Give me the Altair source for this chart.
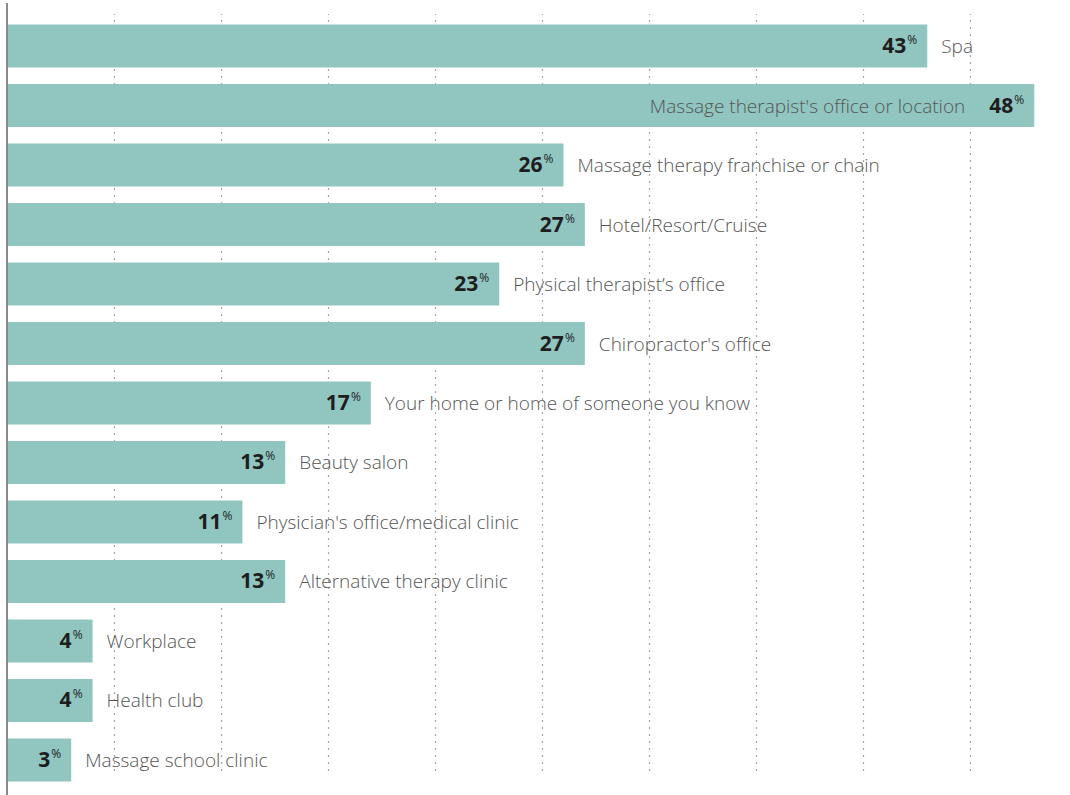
import altair as alt
import pandas as pd

categories = [
    "Spa",
    "Massage therapist's office or location",
    "Massage therapy franchise or chain",
    "Hotel/Resort/Cruise",
    "Physical therapist’s office",
    "Chiropractor's office",
    "Your home or home of someone you know",
    "Beauty salon",
    "Physician's office/medical clinic",
    "Alternative therapy clinic",
    "Workplace",
    "Health club",
    "Massage school clinic",
]
values = [43, 48, 26, 27, 23, 27, 17, 13, 11, 13, 4, 4, 3]
grid_values = [5, 10, 15, 20, 25, 30, 35, 40, 45]

df = pd.DataFrame({"category": categories, "value": values})
df["num"] = df["value"].astype(str)
df["pct"] = "%"
df["inside"] = df["value"] == df["value"].max()

BAR = "#90c5c0"
FONT = "Open Sans"

x_scale = alt.Scale(domain=[0, 49.67], nice=False, zero=True)
y_scale = alt.Scale(range=[24.5, 781.5], paddingInner=0.277, paddingOuter=0)

x_enc = alt.X(
    "value:Q",
    scale=x_scale,
    axis=alt.Axis(
        values=grid_values, grid=True, labels=False, ticks=False, domain=False,
        title=None, gridDash=[2, 5], gridColor="#a5a5a5", gridWidth=1.2,
    ),
)
y_enc = alt.Y("category:N", sort=categories, scale=y_scale, axis=None)

base = alt.Chart(df)

bars = base.mark_bar(color=BAR).encode(x=x_enc, y=y_enc)

num_text = base.mark_text(
    align="right", baseline="middle", dx=-21, dy=1, font=FONT, fontSize=21,
    fontWeight="bold", color="#1e1e1e",
).encode(x=alt.X("value:Q", scale=x_scale), y=y_enc, text="num:N")

pct_text = base.mark_text(
    align="right", baseline="middle", dx=-10, dy=-6, font=FONT, fontSize=12,
    fontWeight="normal", color="#1e1e1e",
).encode(x=alt.X("value:Q", scale=x_scale), y=y_enc, text="pct:N")

cat_out = base.transform_filter("!datum.inside").mark_text(
    align="left", baseline="middle", dx=14, dy=1, font=FONT, fontSize=19,
    fontWeight=300, color="#555555",
).encode(x=alt.X("value:Q", scale=x_scale), y=y_enc, text="category:N")

cat_in = base.transform_filter("datum.inside").mark_text(
    align="right", baseline="middle", dx=-69, dy=1, font=FONT, fontSize=19,
    fontWeight=300, color="#555555",
).encode(x=alt.X("value:Q", scale=x_scale), y=y_enc, text="category:N")

left_line = base.mark_rule(color="#8a8a8a", strokeWidth=1.5).encode(
    x=alt.value(0), y=alt.value(3), y2=alt.value(795)
)

chart = (
    alt.layer(bars, left_line, num_text, pct_text, cat_out, cat_in)
    .properties(
        width=1063, height=795,
        autosize=alt.AutoSizeParams(type="none"),
        padding={"left": 7, "top": 0, "right": 0, "bottom": 0},
        background="white",
    )
    .configure_view(stroke=None)
)

chart.save("out.html", embed_options={"renderer": "svg", "actions": False})
